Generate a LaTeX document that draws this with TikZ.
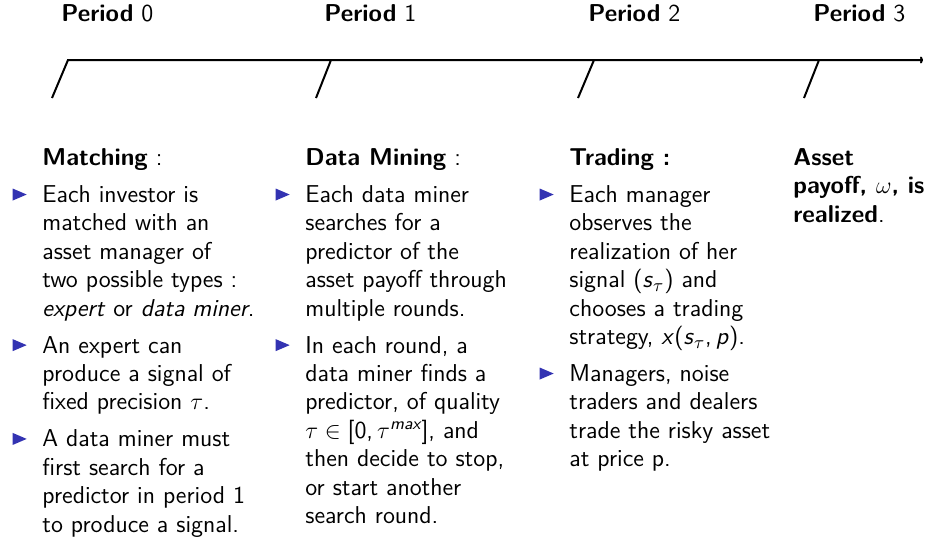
\documentclass[tikz,border=0pt]{standalone}
\usepackage{amsmath}
\usetikzlibrary{arrows.meta}
\definecolor{bulblue}{RGB}{51,51,178}
\newcommand{\mi}[1]{\textit{#1}}
\begin{document}
\begin{tikzpicture}[x=0.5pt,y=-0.5pt,
  basefont/.style={font=\fontsize{12.2}{14.2}\selectfont\sffamily},
  txt/.style={basefont, anchor=north west, inner sep=0pt, align=left, yshift=9.94pt},
  per/.style={basefont, anchor=base west, inner sep=0pt},
  tl/.style={line width=1pt, line join=miter},
  bul/.pic={\fill[bulblue] (0,-6) -- (14,0) -- (0,6) -- cycle;}]
\useasboundingbox (0,0) rectangle (925,547);

% timeline
\coordinate (t0) at (68,60);  \coordinate (b0) at (52,98);
\coordinate (t1) at (331,60); \coordinate (b1) at (316,98);
\coordinate (t2) at (594,60); \coordinate (b2) at (578,98);
\coordinate (t3) at (819,60); \coordinate (b3) at (804,98);
\coordinate (tend) at (923,60);
\draw[tl,-{To[length=1.5pt,width=3.5pt]}] (b0) -- (t0) -- (tend);
\draw[tl] (t1) -- (b1);
\draw[tl] (t2) -- (b2);
\draw[tl] (t3) -- (b3);

% period labels
\node[per] (p0) at (61,21) {\textbf{Period} 0};
\node[per] (p1) at (324,21) {\textbf{Period} 1};
\node[per] (p2) at (588,21) {\textbf{Period} 2};
\node[per] (p3) at (813,21) {\textbf{Period} 3};

% column 1
\node[txt] (h1) at (42,165) {\strut\textbf{Matching} :};
\node[txt] (a1) at (42,202) {\strut Each investor is\\ matched with an\\ asset manager of\\ two possible types :\\ \mi{expert} or \mi{data miner}.};
\node[txt] (a2) at (42,352.6) {\strut An expert can\\ produce a signal of\\ fixed precision $\tau$.};
\node[txt] (a3) at (42,446.4) {\strut A data miner must\\ first search for a\\ predictor in period 1\\ to produce a signal.};

% column 2
\node[txt] (h2) at (305,165) {\strut\textbf{Data Mining} :};
\node[txt] (b1t) at (305,202) {\strut Each data miner\\ searches for a\\ predictor of the\\ asset payoff through\\ multiple rounds.};
\node[txt] (b2t) at (305,352.6) {\strut In each round, a\\ data miner finds a\\ predictor, of quality\\ $\tau\in{}$[0,\,$\tau^{\text{\itshape max}}$], and\\ then decide to stop,\\ or start another\\ search round.};

% column 3
\node[txt] (h3) at (569,165) {\strut\textbf{Trading :}};
\node[txt] (c1) at (569,202) {\strut Each manager\\ observes the\\ realization of her\\ signal (\mi{s}$_\tau$) and\\ chooses a trading\\ strategy, \mi{x}(\mi{s}$_\tau$,\,\mi{p}).};
\node[txt] (c2) at (569,381) {\strut Managers, noise\\ traders and dealers\\ trade the risky asset\\ at price p.};

% column 4
\node[txt] (h4) at (793,165) {\strut\textbf{Asset}\\ \textbf{payoff, $\omega$, is}\\ \textbf{realized}.};

% bullets
\foreach \n in {a1,a2,a3,b1t,b2t,c1,c2}
  \path ([shift={(-29.3,12.4)}]\n.north west) pic {bul};
\end{tikzpicture}
\end{document}
